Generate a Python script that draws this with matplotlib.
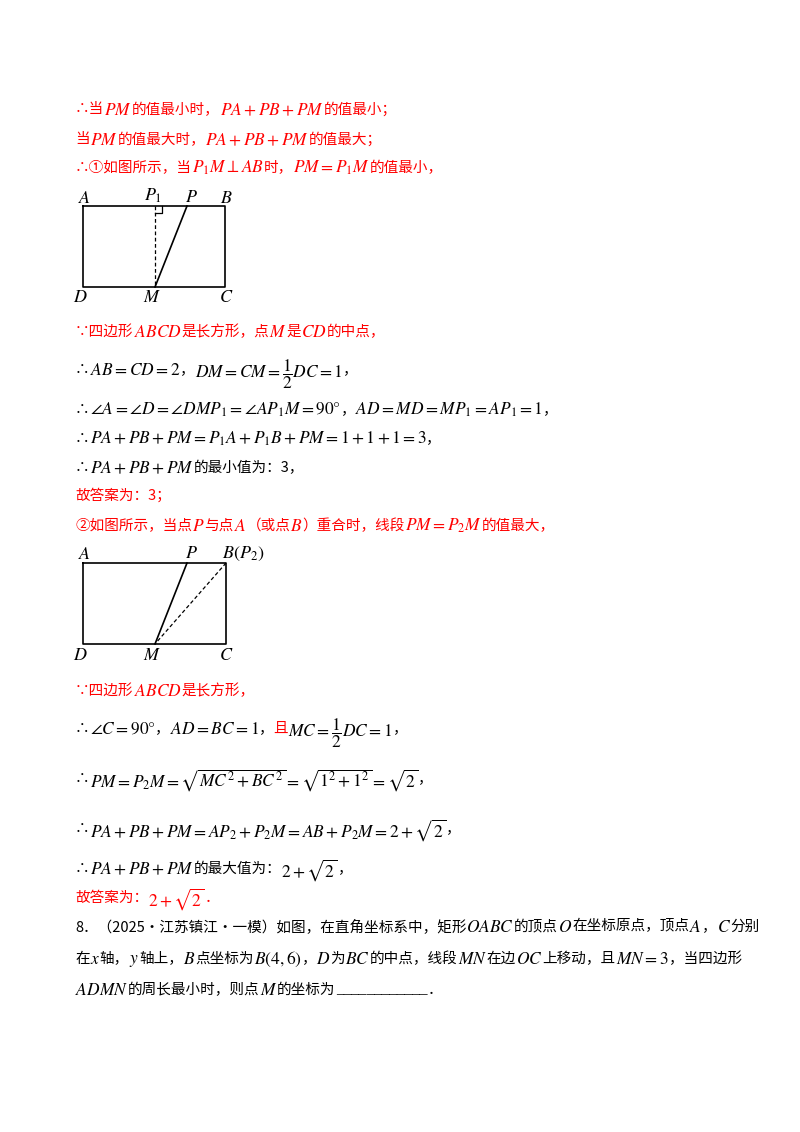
import matplotlib
matplotlib.use("Agg")
import matplotlib.pyplot as plt

plt.rcParams['mathtext.fontset'] = 'stix'
RED = '#ff0000'
BLK = '#000000'

# Diagram 1 points (A, B, C, D, P1, P, M)
rect1_x = [83, 225, 225, 83, 83]
rect1_y = [206, 206, 287, 287, 206]
d1_P1 = (155, 206); d1_P = (187, 206); d1_M = (155, 287)
labels1 = [("A", 85, 198), ("$P_1$", 153, 196), ("P", 191, 197), ("B", 226, 198),
           ("D", 80, 297), ("M", 152, 297), ("C", 226, 297)]
# Diagram 2
rect2_x = [83, 226, 226, 83, 83]
rect2_y = [563, 563, 644, 644, 563]
d2_P = (187, 563); d2_M = (155, 644); d2_B = (226, 563)
labels2 = [("A", 85, 554), ("P", 191, 553), ("$B(P_2)$", 243, 554),
           ("D", 80, 655), ("M", 152, 655), ("C", 226, 655)]

CJK = ['Noto Sans CJK SC', 'DejaVu Sans']
lines = [
    (108, RED, [("∴当", 'c'), ("$PM$", 'm'), ("的值最小时，", 'c'), ("$PA+PB+PM$", 'm'), ("的值最小；", 'c')]),
    (138, RED, [("当", 'c'), ("$PM$", 'm'), ("的值最大时，", 'c'), ("$PA+PB+PM$", 'm'), ("的值最大；", 'c')]),
    (166, RED, [("∴①如图所示，当", 'c'), ("$P_1M\\perp AB$", 'm'), ("时，", 'c'), ("$PM=P_1M$", 'm'), ("的值最小，", 'c')]),
    (330, RED, [("∵四边形", 'c'), ("$ABCD$", 'm'), ("是长方形，点", 'c'), ("$M$", 'm'), ("是", 'c'), ("$CD$", 'm'), ("的中点，", 'c')]),
    (368, BLK, [("∴", 'c'), ("$AB=CD=2$", 'm'), ("，", 'c'), ("$DM=CM=\\dfrac{1}{2}DC=1$", 'm'), ("，", 'c')]),
    (408, BLK, [("∴", 'c'), ("$\\angle A=\\angle D=\\angle DMP_1=\\angle AP_1M=90°$", 'm'), ("，", 'c'), ("$AD=MD=MP_1=AP_1=1$", 'm'), ("，", 'c')]),
    (437, BLK, [("∴", 'c'), ("$PA+PB+PM=P_1A+P_1B+PM=1+1+1=3$", 'm'), ("，", 'c')]),
    (466, BLK, [("∴", 'c'), ("$PA+PB+PM$", 'm'), ("的最小值为：3，", 'c')]),
    (494, RED, [("故答案为：3；", 'c')]),
    (524, RED, [("②如图所示，当点", 'c'), ("$P$", 'm'), ("与点", 'c'), ("$A$", 'm'), ("（或点", 'c'), ("$B$", 'm'), ("）重合时，线段", 'c'), ("$PM=P_2M$", 'm'), ("的值最大，", 'c')]),
    (689, RED, [("∵四边形", 'c'), ("$ABCD$", 'm'), ("是长方形，", 'c')]),
    (727, BLK, [("∴", 'c'), ("$\\angle C=90°$", 'm'), ("，", 'c'), ("$AD=BC=1$", 'm'), ("，", 'c'), ("且", 'r'), ("$MC=\\dfrac{1}{2}DC=1$", 'm'), ("，", 'c')]),
    (777, BLK, [("∴", 'c'), ("$PM=P_2M=\\sqrt{MC^2+BC^2}=\\sqrt{1^2+1^2}=\\sqrt{2}$", 'm'), ("，", 'c')]),
    (827, BLK, [("∴", 'c'), ("$PA+PB+PM=AP_2+P_2M=AB+P_2M=2+\\sqrt{2}$", 'm'), ("，", 'c')]),
    (867, BLK, [("∴", 'c'), ("$PA+PB+PM$", 'm'), ("的最大值为：", 'c'), ("$2+\\sqrt{2}$", 'm'), ("，", 'c')]),
    (896, RED, [("故答案为：", 'c'), ("$2+\\sqrt{2}$", 'm'), ("．", 'c')]),
    (925, BLK, [("8．（2025•江苏镇江•一模）如图，在直角坐标系中，矩形", 'c'), ("$OABC$", 'm'), ("的顶点", 'c'), ("$O$", 'm'), ("在坐标原点，顶点", 'c'), ("$A$", 'm'), ("，", 'c'), ("$C$", 'm'), ("分别", 'c')]),
    (957, BLK, [("在", 'c'), ("$x$", 'm'), ("轴，", 'c'), ("$y$", 'm'), ("轴上，", 'c'), ("$B$", 'm'), ("点坐标为", 'c'), ("$B(4,6)$", 'm'), ("，", 'c'), ("$D$", 'm'), ("为", 'c'), ("$BC$", 'm'), ("的中点，线段", 'c'), ("$MN$", 'm'), ("在边", 'c'), ("$OC$", 'm'), ("上移动，且", 'c'), ("$MN=3$", 'm'), ("，当四边形", 'c')]),
    (988, BLK, [("$ADMN$", 'm'), ("的周长最小时，则点", 'c'), ("$M$", 'm'), ("的坐标为", 'c'), ("____________", 'n'), ("．", 'c')]),
]

fig = plt.figure(figsize=(8, 11.32), dpi=100)
ax = fig.add_axes([0, 0, 1, 1])
ax.set_xlim(0, 800); ax.set_ylim(1132, 0); ax.axis('off')
fig.canvas.draw()
r = fig.canvas.get_renderer()

for y, col, segs in lines:
    x = 75
    for s, k in segs:
        if k == 'm':
            t = ax.text(x, y, s, fontsize=12.5, color=col, va='center_baseline', ha='left')
        elif k == 'n':
            t = ax.text(x, y, s, fontsize=11, color=BLK, family='Liberation Serif', va='center_baseline', ha='left')
        else:
            c = RED if k == 'r' else col
            t = ax.text(x, y, s, fontsize=10.5, color=c, family=CJK, va='center_baseline', ha='left')
        x += t.get_window_extent(r).width

def lab(L):
    for s, x, y in L:
        txt = s if s.startswith('$') else f"${s}$"
        ax.text(x, y, txt, fontsize=13, ha='center', va='center')

ax.plot(rect1_x, rect1_y, color='k', lw=1.2)
ax.plot([d1_P1[0], d1_M[0]], [d1_P1[1], d1_M[1]], 'k--', lw=0.9, dashes=(3, 2))
ax.plot([d1_P1[0], d1_P1[0] + 7, d1_P1[0] + 7], [d1_P1[1] + 7, d1_P1[1] + 7, d1_P1[1]], 'k', lw=0.9)
ax.plot([d1_P[0], d1_M[0]], [d1_P[1], d1_M[1]], 'k', lw=1.2)
lab(labels1)

ax.plot(rect2_x, rect2_y, color='k', lw=1.2)
ax.plot([d2_P[0], d2_M[0]], [d2_P[1], d2_M[1]], 'k', lw=1.2)
ax.plot([d2_B[0], d2_M[0]], [d2_B[1], d2_M[1]], 'k--', lw=0.9, dashes=(3, 2))
lab(labels2)

fig.savefig("out.png", dpi=100)
